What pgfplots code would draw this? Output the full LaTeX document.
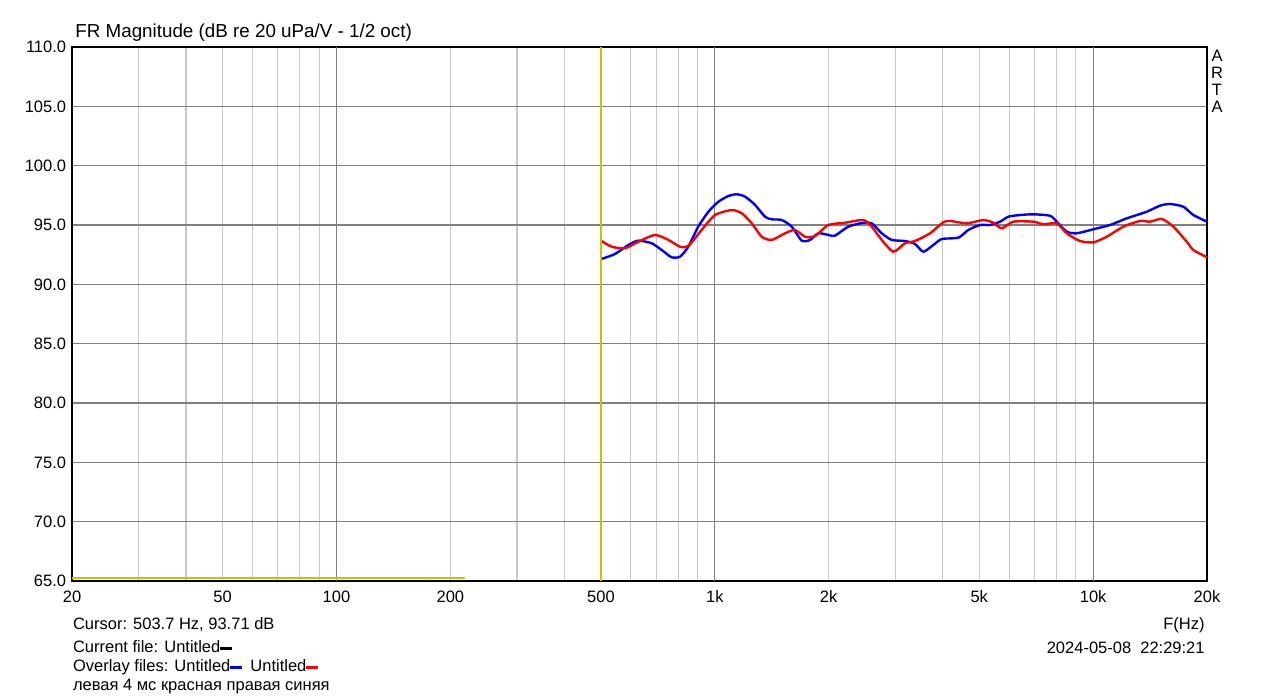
\documentclass[border=0pt]{standalone}
\usepackage{fontspec}
\setmainfont{Liberation Sans}
\usepackage{pgfplots}
\pgfplotsset{compat=1.18}
\definecolor{cblue}{RGB}{0,0,255}
\definecolor{cred}{RGB}{255,0,0}
\definecolor{cyel}{RGB}{196,196,0}
\definecolor{gmaj}{RGB}{128,128,128}
\definecolor{gmin}{RGB}{200,200,200}
\begin{document}
\fontsize{8.25pt}{10pt}\selectfont
\begin{tikzpicture}[x=1pt,y=1pt]
\path[use as bounding box] (0,0) rectangle (639.5,349.5);
\begin{axis}[
  at={(36pt,59pt)}, anchor=south west,
  scale only axis, width=567.5pt, height=267pt,
  xmode=log, xmin=20, xmax=20000, ymin=65, ymax=110,
  xtick={20,50,100,200,500,1000,2000,5000,10000,20000},
  xticklabels={20,50,100,200,500,1k,2k,5k,10k,20k},
  minor xtick={30,40,60,70,80,90,300,400,600,700,800,900,3000,4000,6000,7000,8000,9000},
  extra x ticks={100,1000,10000},
  extra x tick labels={},
  extra x tick style={grid=major, major grid style={gmaj, line width=0.6pt}, major x grid style={gmaj, line width=0.6pt}},
  ytick={65,70,...,110},
  yticklabel style={/pgf/number format/fixed, /pgf/number format/fixed zerofill, /pgf/number format/precision=1},
  /pgf/number format/assume math mode=true,
  xmajorgrids, xminorgrids, ymajorgrids,
  major x grid style={gmin, line width=0.6pt},
  minor x grid style={gmin, line width=0.6pt},
  major y grid style={gmaj, line width=0.6pt},
  major tick length=0pt, minor tick length=0pt,
  tick label style={font=\fontsize{8.25pt}{10pt}\selectfont, black},
  xticklabel style={yshift=-2pt},
  axis line style={black, line width=0.7pt},
  clip=true,
]
\addplot[cblue, line width=1.2pt, smooth, tension=0.4] coordinates {
(502,92.14) (545,92.56) (591,93.32) (628,93.68) (681,93.46) (724,92.89) (769,92.28) (809,92.33)
(851,93.17) (904,94.86) (962,96.12) (1022,96.96) (1086,97.44) (1143,97.59) (1202,97.39) (1278,96.69)
(1357,95.70) (1414,95.48) (1503,95.42) (1597,94.86) (1697,93.68) (1785,93.74) (1878,94.30) (1996,94.16)
(2078,94.10) (2254,94.86) (2468,95.19) (2598,95.14) (2762,94.30) (2936,93.74) (3182,93.65) (3382,93.40)
(3558,92.75) (3782,93.32) (3981,93.82) (4402,93.93) (4678,94.58) (5024,95.00) (5340,95.00) (5676,95.28)
(5970,95.70) (6408,95.84) (6948,95.90) (7692,95.78) (8012,95.28) (8516,94.44) (9048,94.30) (10012,94.64)
(11080,95.00) (12270,95.56) (13858,96.12) (15028,96.63) (15970,96.77) (17316,96.54) (18400,95.84) (20000,95.28)
};
\addplot[cred, line width=1.2pt, smooth, tension=0.4] coordinates {
(502,93.65) (534,93.17) (579,93.04) (628,93.59) (695,94.16) (754,93.74) (809,93.17) (851,93.23)
(923,94.58) (1001,95.84) (1108,96.26) (1178,95.99) (1252,95.14) (1331,94.01) (1414,93.74) (1533,94.30)
(1629,94.58) (1732,94.01) (1840,94.07) (1996,95.00) (2210,95.19) (2468,95.42) (2598,94.86) (2762,93.74)
(2964,92.75) (3182,93.46) (3382,93.65) (3706,94.30) (4018,95.23) (4186,95.34) (4634,95.14) (5126,95.42)
(5446,95.19) (5734,94.72) (6152,95.28) (6948,95.28) (7386,95.06) (8012,95.14) (8516,94.30) (9232,93.65)
(10012,93.54) (10860,94.01) (12018,94.86) (13306,95.34) (14140,95.28) (15184,95.51) (16294,94.86) (17680,93.59)
(18400,92.89) (20000,92.28)
};
\addplot[cyel, line width=1.1pt] coordinates {(20,65.25) (218,65.25)};
\addplot[cyel, line width=1.1pt] coordinates {(500.7,65) (500.7,110)};
\end{axis}
\node[anchor=base west, inner sep=0] at (37.5,330.5) {\fontsize{9.4pt}{11pt}\selectfont FR Magnitude (dB re 20 uPa/V - 1/2 oct)};
\node[anchor=base, inner sep=0] at (608.5,318.5) {A};
\node[anchor=base, inner sep=0] at (608.5,310) {R};
\node[anchor=base, inner sep=0] at (608.5,301.5) {T};
\node[anchor=base, inner sep=0] at (608.5,293) {A};
\node[anchor=base west, inner sep=0] at (36.3,34.8) {Cursor: 503.7 Hz, 93.71 dB};
\node[anchor=base west, inner sep=0] at (36.3,23.2) {Current file: Untitled{\color{black}\rule[0.3ex]{6pt}{1.7pt}}};
\node[anchor=base west, inner sep=0] at (36.3,13.7) {Overlay files: Untitled{\color{cblue}\rule[0.3ex]{6pt}{1.7pt}}\hspace{4pt}Untitled{\color{cred}\rule[0.3ex]{6pt}{1.7pt}}};
\node[anchor=base west, inner sep=0] at (36.3,4.2) {левая 4 мс красная правая синяя};
\node[anchor=base east, inner sep=0] at (602.5,34.8) {F(Hz)};
\node[anchor=base east, inner sep=0] at (602.5,22.8) {2024-05-08\ \ 22:29:21};
\end{tikzpicture}
\end{document}
